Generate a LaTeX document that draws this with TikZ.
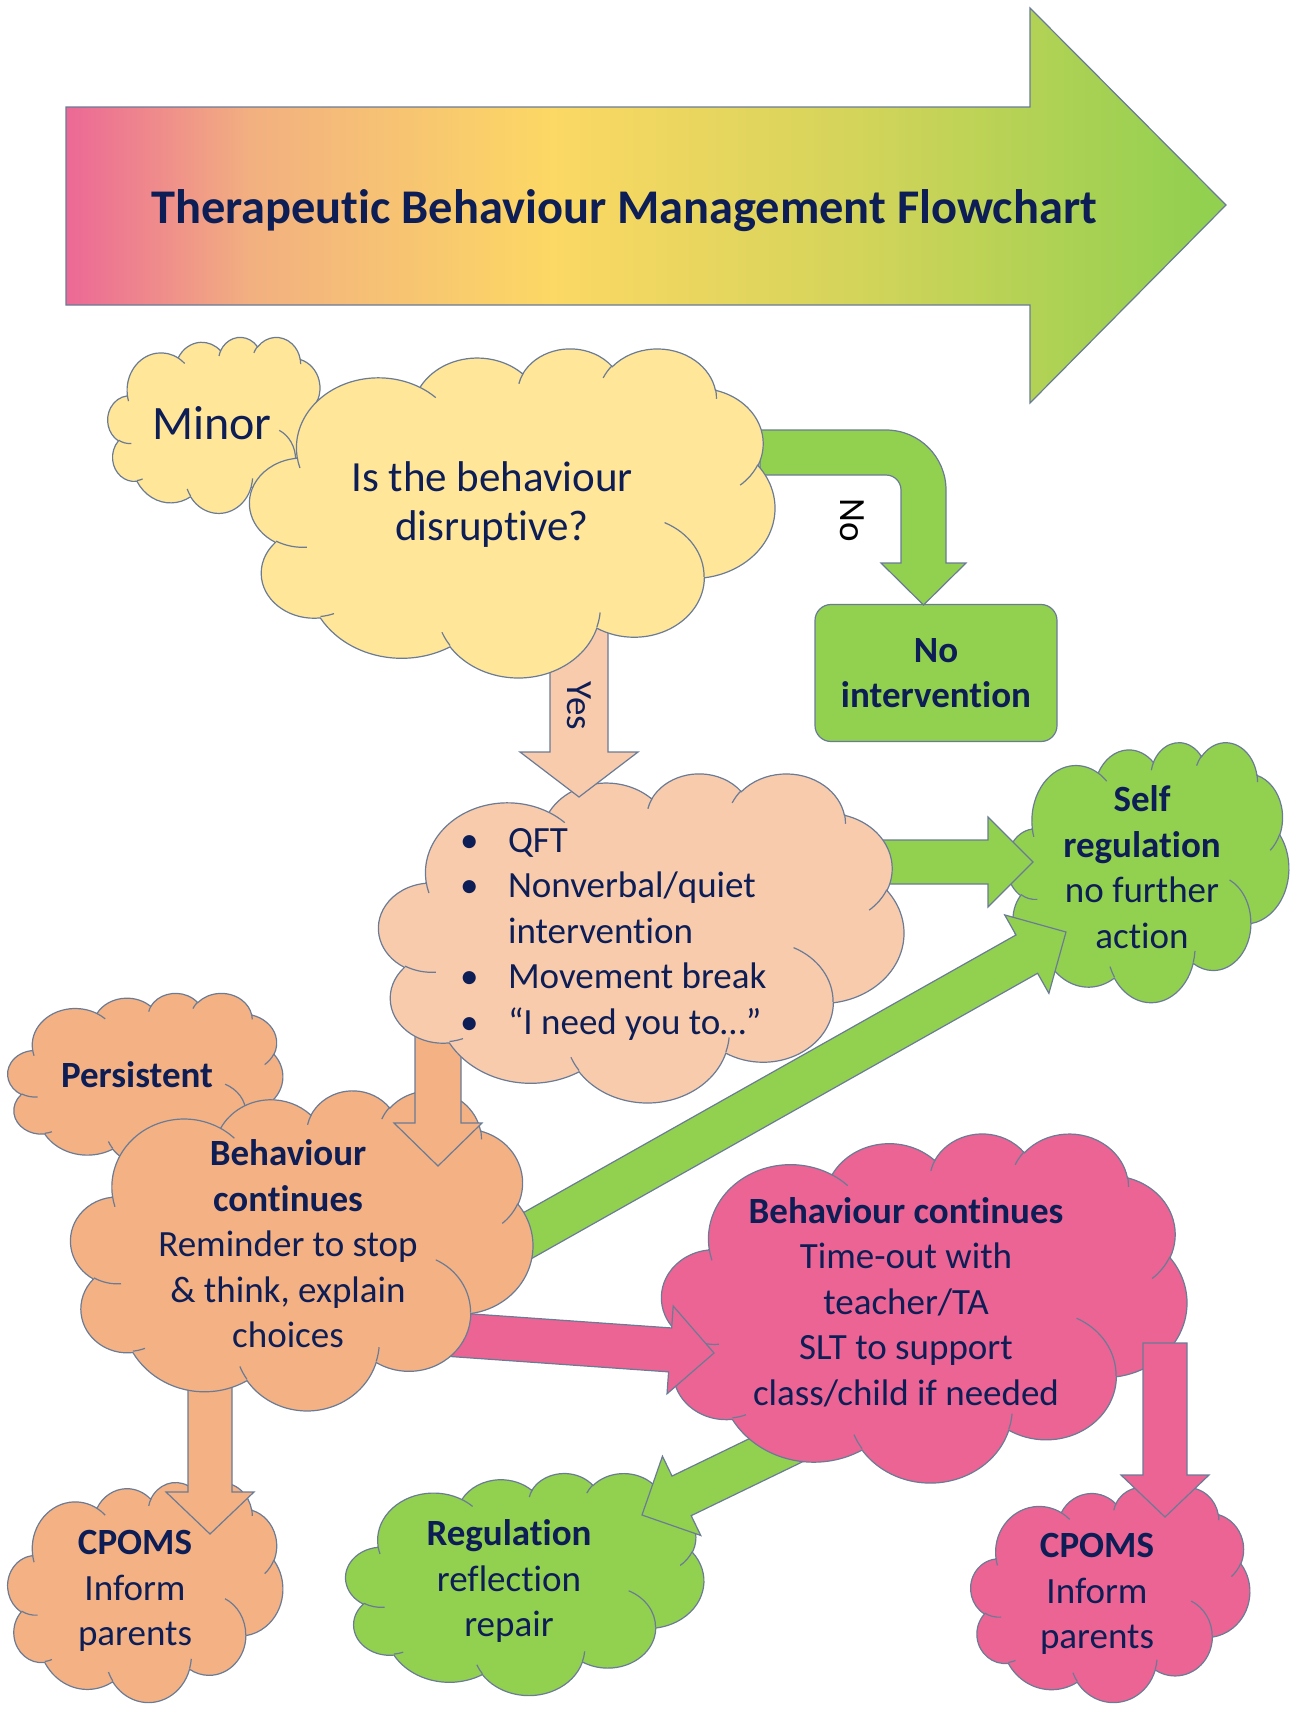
\documentclass[tikz,border=0pt]{standalone}
\usepackage{fontspec}
\setmainfont{Carlito}[Ligatures=CommonOff]
\usetikzlibrary{calc}

\definecolor{edge}{HTML}{6A7B96}
\definecolor{navy}{HTML}{0D1D55}
\definecolor{ylw}{HTML}{FFE699}
\definecolor{pch}{HTML}{F8CBAD}
\definecolor{org}{HTML}{F4B183}
\definecolor{grn}{HTML}{92D050}
\definecolor{pnk}{HTML}{EC6494}
\definecolor{tpink}{HTML}{EC6896}
\definecolor{tpeach}{HTML}{F2B080}
\definecolor{tyellow}{HTML}{FCD864}
\definecolor{tlime}{HTML}{D4D45A}

\pgfdeclarehorizontalshading{titlegrad}{100bp}{color(0bp)=(tpink); color(25bp)=(tpink);
  color(33bp)=(tpeach); color(46bp)=(tyellow); color(59bp)=(tlime); color(74bp)=(grn); color(100bp)=(grn)}

% elliptic arc, angles as seen: start, sweep, x radius, y radius
\newcommand{\parc}[4]{arc[start angle={atan2(#3*sin(#1),#4*cos(#1))},
  delta angle={mod(atan2(#3*sin(#1+#2),#4*cos(#1+#2))-atan2(#3*sin(#1),#4*cos(#1))+720,360)},
  x radius=#3,y radius=#4]}

% cloud: name, centre x, centre y, width, height, fill
\newcommand{\pptcloud}[6]{%
  \node[inner sep=0pt,minimum width=#4pt,minimum height=#5pt] (#1) at (#2,#3) {};
  \begin{scope}[shift={(#1.north west)},xscale=#4/432,yscale=#5/432]
    \filldraw[fill=#6,cloudline] (39,143.70) \parc{-190.4875}{123.7805}{67.53}{91.90}
      \parc{-144.1024}{89.9452}{53.33}{72.67} \parc{-145.8079}{99.7230}{43.65}{59.45}
      \parc{-130.9861}{117.2417}{48.57}{65.95} \parc{-78.7089}{109.0269}{53.33}{72.73}
      \parc{-46.2673}{130.2690}{67.75}{92.20} \parc{0.6250}{114.0333}{57.85}{78.67}
      \parc{22.4516}{115.1726}{67.52}{92.15} \parc{66.2426}{75.7110}{77.20}{105.43}
      \parc{-274.9421}{146.7356}{43.60}{59.18} \parc{-246.8285}{152.5189}{43.45}{59.45} -- cycle;
    \draw[cloudline] (46.93,261.77) \parc{86.7420}{26.4295}{43.45}{59.45}
      (69.28,348.99) \parc{73.6105}{11.4475}{43.60}{59.18}
      (164.78,390.90) \parc{137.6242}{14.0811}{67.52}{92.15}
      (288.27,347.51) \parc{6.4533}{15.9984}{67.52}{92.15}
      (341.29,229.54) \parc{-70.2924}{70.9174}{57.85}{78.67}
      (417.98,153.54) \parc{30.3180}{27.7515}{53.33}{72.73}
      (383.24,54.26) \parc{-13.7443}{14.8589}{48.57}{65.95}
      (290.78,39.52) \parc{-149.1815}{18.1954}{48.57}{65.95}
      (221.41,47.20) \parc{-163.4943}{17.6864}{43.65}{59.45}
      (140.00,51.92) \parc{-66.7070}{12.3194}{67.53}{91.90}
      (41.27,157.89) \parc{157.6544}{11.8582}{67.53}{91.90};
  \end{scope}}

% block arrow: colour, from, to, half shaft, half head, head length
\newcommand{\blockarrow}[6]{%
  \coordinate (#3-h) at ($(#3)!#6!(#2)$);
  \filldraw[fill=#1,arrowline] ($(#2)!#4!90:(#3)$) -- ($(#3-h)!#4!90:(#3)$)
    -- ($(#3-h)!#5!90:(#3)$) -- (#3) -- ($(#3-h)!#5!-90:(#3)$)
    -- ($(#3-h)!#4!-90:(#3)$) -- ($(#2)!#4!-90:(#3)$) -- cycle;}

\begin{document}
\begin{tikzpicture}[x=1pt,y=-1pt]
\tikzstyle{cloudline}=[draw=edge,line width=1.2pt]
\tikzstyle{arrowline}=[draw=edge,line width=1.2pt,line join=miter]
\tikzstyle{txt}=[text=navy,align=center,font=\fontsize{37}{45.5}\selectfont]
\useasboundingbox (0,0) rectangle (1297,1717);

% title arrow
\path[shade,shading=titlegrad,draw=edge,line width=1.2pt] (66,107) -- (1030,107) -- (1030,8)
  -- (1226,205) -- (1030,403) -- (1030,305) -- (66,305) -- cycle;
\node[text=navy,font=\bfseries\fontsize{48.4}{56}\selectfont,anchor=base] (title) at (624,223)
  {Therapeutic Behaviour Management Flowchart};

% bottom row
\pptcloud{reg}{525}{1584}{358}{222}{grn}
\node[txt] (regt) at (509,1581) {\textbf{Regulation}\\reflection\\repair};
\pptcloud{cpr}{1110.5}{1594.5}{279}{215}{pnk}
\node[txt] (cprt) at (1097,1594) {\textbf{CPOMS}\\Inform\\parents};
\coordinate (pr-s) at (795,1441);
\coordinate (pr-e) at (642,1515);
\blockarrow{grn}{pr-s}{pr-e}{22pt}{44pt}{44pt}

% time-out
\pptcloud{tout}{924.5}{1307.5}{525}{349}{pnk}
\node[txt] (toutt) at (906,1302) {\textbf{Behaviour continues}\\Time-out with\\teacher/TA\\SLT to support\\class/child if needed};
\coordinate (pc-s) at (1165,1343);
\coordinate (pc-e) at (1165,1517);
\blockarrow{pnk}{pc-s}{pc-e}{22pt}{44pt}{42pt}

\pptcloud{cpl}{145.5}{1592}{275}{220}{org}
\node[txt] (cplt) at (135,1591) {\textbf{CPOMS}\\Inform\\parents};
\pptcloud{self}{1148}{872}{282}{260}{grn}
\node[txt] (selft) at (1142,867) {\textbf{Self}\\\textbf{regulation}\\no further\\action};

% out of behaviour continues
\coordinate (bs-s) at (470,1268);
\coordinate (bs-e) at (1066,932);
\blockarrow{grn}{bs-s}{bs-e}{22pt}{45pt}{45pt}
\coordinate (bp-s) at (430,1333);
\coordinate (bp-e) at (714,1353);
\blockarrow{pnk}{bp-s}{bp-e}{22pt}{44pt}{44pt}
\coordinate (bl-s) at (210,1370);
\coordinate (bl-e) at (210,1534);
\blockarrow{org}{bl-s}{bl-e}{22pt}{44pt}{42pt}

\pptcloud{pers}{145.5}{1079}{275}{172}{org}
\node[txt,font=\bfseries\fontsize{37}{45.5}\selectfont] (perst) at (137,1075) {Persistent};
\pptcloud{bc}{302}{1250}{462}{320}{org}
\node[txt] (bct) at (288,1244) {\textbf{Behaviour}\\\textbf{continues}\\Reminder to stop\\\& think, explain\\choices};

% out of the strategies cloud
\coordinate (qb-s) at (438,1030);
\coordinate (qb-e) at (438,1166);
\blockarrow{org}{qb-s}{qb-e}{23pt}{44pt}{43pt}
\coordinate (qs-s) at (860,862);
\coordinate (qs-e) at (1033,862);
\blockarrow{grn}{qs-s}{qs-e}{22pt}{45pt}{45pt}

\pptcloud{qft}{641.5}{937.5}{525}{329}{pch}
\node[txt,align=left,anchor=west] (qftt) at (456.5,934)
  {\makebox[48pt][l]{•}QFT\\\makebox[48pt][l]{•}Nonverbal/quiet\\\makebox[48pt][l]{}intervention\\
   \makebox[48pt][l]{•}Movement break\\\makebox[48pt][l]{•}“I need you to…”};

% yes
\coordinate (yes-s) at (579,625);
\coordinate (yes-e) at (579,797);
\blockarrow{pch}{yes-s}{yes-e}{29pt}{59pt}{45pt}
\node[txt,rotate=-90] (yest) at (579,706) {Yes};

% no
\node[draw=edge,line width=1.2pt,fill=grn,rounded corners=16pt,minimum width=242pt,minimum height=137pt,
  txt,font=\bfseries\fontsize{37}{45.5}\selectfont] (noint) at (936,673) {No\\intervention};
\filldraw[fill=grn,arrowline] (760,430) -- (886,430) arc[start angle=-90,end angle=0,radius=60]
  -- (946,563) -- (966,563) -- (923.5,605) -- (881,563) -- (901,563) -- (901,490)
  arc[start angle=0,end angle=-90,radius=15] -- (760,475) -- cycle;
\node[rotate=-90,font=\fontsize{37}{45.5}\selectfont] (not) at (852,520) {No};

% question
\pptcloud{minor}{216.5}{425}{217}{176}{ylw}
\node[txt,font=\fontsize{48}{56}\selectfont] (minort) at (212,423) {Minor};
\pptcloud{disr}{512.5}{512.5}{525}{329}{ylw}
\node[txt,font=\fontsize{43}{49}\selectfont] (disrt) at (492,505) {Is the behaviour\\disruptive?};
\end{tikzpicture}
\end{document}
